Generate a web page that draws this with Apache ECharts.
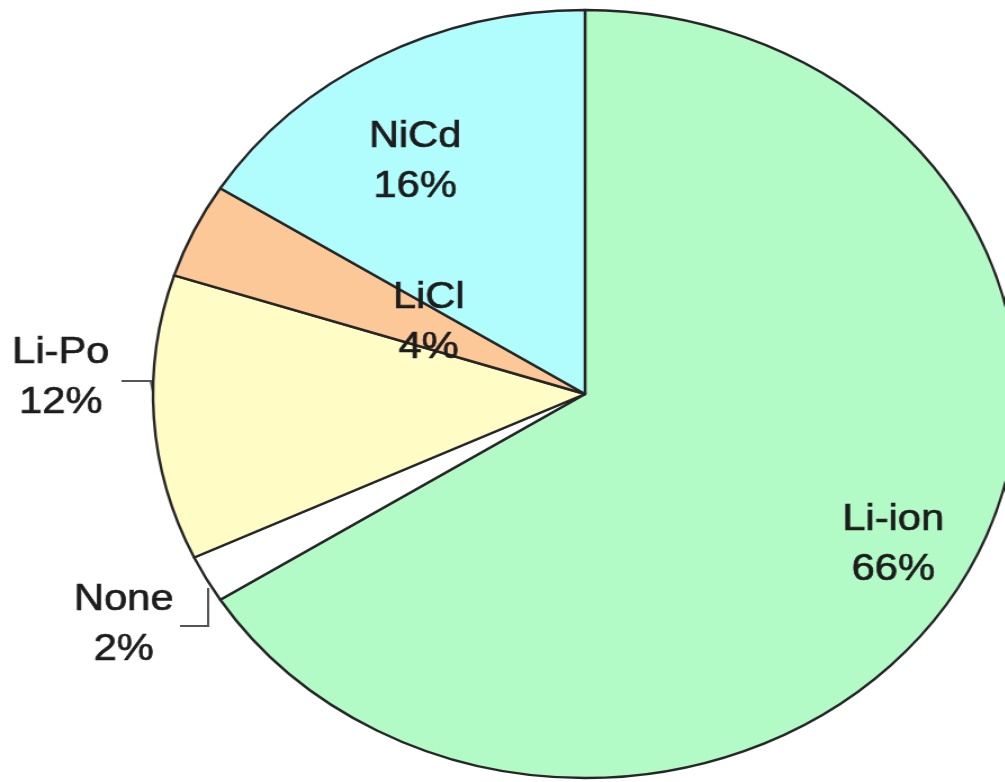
<!DOCTYPE html>
<html>
<head>
<meta charset="utf-8">
<script src="https://cdn.jsdelivr.net/npm/echarts@6/dist/echarts.min.js"></script>
<style>
html, body { margin: 0; padding: 0; background: #fff; overflow: hidden; }
/* the source picture is stretched sideways, so the pie is drawn round and widened */
#chart { width: 893px; height: 782px; transform: scaleX(1.125); transform-origin: 0 0; }
</style>
</head>
<body>
<div id="chart"></div>
<script>
// battery types, clockwise from 12 o'clock
var names = ['Li-ion', 'None', 'Li-Po', 'LiCl', 'NiCd'];
var shares = [66, 2, 12, 4, 16];
var colors = ['#b3fbc6', '#ffffff', '#fffcc6', '#fdc897', '#b1fcfd'];

// where each label sits (unscaled px), leader lines for the outside ones
var labelPos = {
    'Li-ion': { x: 794, y: 545 },
    'None': { x: 110, y: 625, line: [[185, 588], [185, 626], [160, 626]] },
    'Li-Po': { x: 54, y: 378, line: [[136, 392], [134, 381], [108, 381]] },
    'LiCl': { x: 381, y: 323 },
    'NiCd': { x: 369, y: 162 }
};

var pieData = [];
for (var i = 0; i < names.length; i++) {
    var outside = !!labelPos[names[i]].line;
    pieData.push({
        name: names[i],
        value: shares[i],
        itemStyle: { color: colors[i] },
        label: { position: outside ? 'outside' : 'inside' },
        labelLine: { show: outside }
    });
}

var myChart = echarts.init(document.getElementById('chart'));

option = {
    animation: false,
    series: [{
        type: 'pie',
        center: [520, 394],
        radius: 384,
        startAngle: 90,
        clockwise: true,
        avoidLabelOverlap: false,
        silent: true,
        itemStyle: { borderColor: '#262626', borderWidth: 2.4 },
        label: {
            formatter: '{b}\n{c}%',
            color: '#1c1c1c',
            fontFamily: 'Arial, "Liberation Sans", sans-serif',
            fontSize: 37,
            lineHeight: 50,
            align: 'center',
            textBorderColor: '#1c1c1c',
            textBorderWidth: 0.7
        },
        labelLine: {
            lineStyle: { color: '#555', width: 2 }
        },
        labelLayout: function (params) {
            var p = labelPos[names[params.dataIndex]];
            var res = { x: p.x, y: p.y, align: 'center', verticalAlign: 'middle' };
            if (p.line) {
                res.labelLinePoints = p.line;
            }
            return res;
        },
        data: pieData
    }]
};

myChart.setOption(option);
</script>
</body>
</html>
